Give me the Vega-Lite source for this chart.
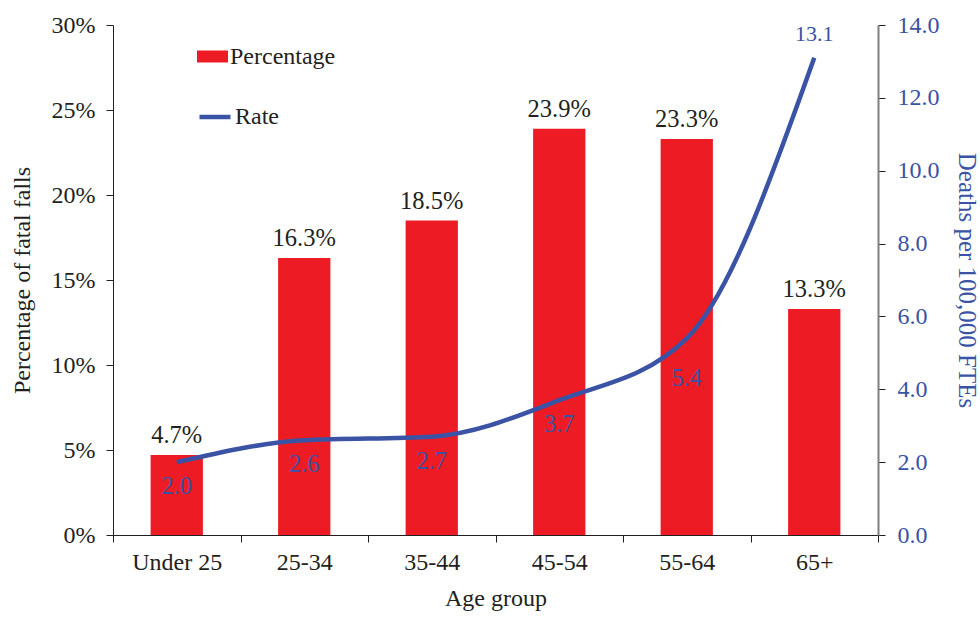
{
  "$schema": "https://vega.github.io/schema/vega-lite/v6.json",
  "width": 765,
  "height": 510,
  "autosize": {"type": "none"},
  "padding": {"left": 113, "top": 25, "right": 102, "bottom": 85},
  "background": "white",
  "config": {
    "view": {"stroke": null},
    "font": "Liberation Serif",
    "axis": {"labelFont": "Liberation Serif", "titleFont": "Liberation Serif", "labelFontSize": 24, "titleFontSize": 24, "titleFontWeight": "normal", "labelColor": "#231F20", "titleColor": "#231F20", "grid": false},
    "legend": {"labelFont": "Liberation Serif", "labelFontSize": 24, "labelColor": "#231F20"}
  },
  "data": {"values": [
    {"age": "Under 25", "pct": 4.7, "rate": 2.0},
    {"age": "25-34", "pct": 16.3, "rate": 2.6},
    {"age": "35-44", "pct": 18.5, "rate": 2.7},
    {"age": "45-54", "pct": 23.9, "rate": 3.7},
    {"age": "55-64", "pct": 23.3, "rate": 5.4},
    {"age": "65+", "pct": 13.3, "rate": 13.1}
  ]},
  "encoding": {
    "x": {"field": "age", "type": "nominal", "sort": null,
      "scale": {"paddingInner": 0, "paddingOuter": 0},
      "axis": {"title": "Age group", "labelAngle": 0, "tickBand": "extent", "domainColor": "#231F20", "tickColor": "#231F20", "tickSize": 7, "labelPadding": 8, "titlePadding": 12}}
  },
  "layer": [
    {
      "layer": [
        {
          "mark": {"type": "bar", "color": "#ED1C24", "width": {"band": 0.41}},
          "encoding": {
            "y": {"field": "pct", "type": "quantitative", "scale": {"domain": [0, 30]},
              "axis": {"title": "Percentage of fatal falls", "titleFontSize": 24, "values": [0, 5, 10, 15, 20, 25, 30], "labelExpr": "datum.value + '%'", "domainColor": "#231F20", "tickColor": "#231F20", "tickSize": 7, "labelPadding": 11, "titlePadding": 17}},
            "fill": {"datum": "Percentage", "type": "nominal", "scale": {"range": ["#ED1C24"]},
              "legend": {"title": null, "orient": "none", "legendX": 84, "legendY": 16, "symbolType": "M-1,-0.387H1V0.387H-1Z", "symbolSize": 961, "symbolStrokeWidth": 0, "labelOffset": 2}}
          }
        },
        {
          "transform": [{"calculate": "format(datum.pct, '.1f') + '%'", "as": "pctLabel"}],
          "mark": {"type": "text", "baseline": "bottom", "dy": -7, "fontSize": 24.5, "color": "#231F20", "font": "Liberation Serif"},
          "encoding": {
            "y": {"field": "pct", "type": "quantitative"},
            "text": {"field": "pctLabel", "type": "nominal"}
          }
        }
      ]
    },
    {
      "layer": [
        {
          "mark": {"type": "line", "color": "#3A53A4", "strokeWidth": 4.5, "interpolate": "monotone"},
          "encoding": {
            "y": {"field": "rate", "type": "quantitative", "scale": {"domain": [0, 14]},
              "axis": {"orient": "right", "title": "Deaths per 100,000 FTEs", "titleFontSize": 25, "titleAngle": 90, "titleColor": "#3A53A4", "labelColor": "#3A53A4", "format": ".1f", "values": [0, 2, 4, 6, 8, 10, 12, 14], "domainColor": "#7F7F7F", "domainWidth": 2, "tickColor": "#231F20", "tickSize": 7, "labelPadding": 12, "titlePadding": 14}},
            "stroke": {"datum": "Rate", "type": "nominal", "scale": {"range": ["#3A53A4"]},
              "legend": {"title": null, "orient": "none", "legendX": 84, "legendY": 74, "symbolType": "stroke", "symbolSize": 961, "symbolStrokeWidth": 4.5, "labelOffset": 2}}
          }
        },
        {
          "transform": [{"filter": "datum.rate < 5"}],
          "mark": {"type": "text", "baseline": "middle", "dy": 25, "fontSize": 24.5, "color": "#3A53A4", "font": "Liberation Serif"},
          "encoding": {
            "y": {"field": "rate", "type": "quantitative"},
            "text": {"field": "rate", "type": "quantitative", "format": ".1f"}
          }
        },
        {
          "transform": [{"filter": "datum.rate >= 5 && datum.rate < 10"}],
          "mark": {"type": "text", "baseline": "middle", "dy": 41, "fontSize": 24.5, "color": "#3A53A4", "font": "Liberation Serif"},
          "encoding": {
            "y": {"field": "rate", "type": "quantitative"},
            "text": {"field": "rate", "type": "quantitative", "format": ".1f"}
          }
        },
        {
          "transform": [{"filter": "datum.rate >= 10"}],
          "mark": {"type": "text", "baseline": "middle", "dy": -24, "fontSize": 22, "color": "#3A53A4", "font": "Liberation Serif"},
          "encoding": {
            "y": {"field": "rate", "type": "quantitative"},
            "text": {"field": "rate", "type": "quantitative", "format": ".1f"}
          }
        }
      ]
    }
  ],
  "resolve": {"scale": {"y": "independent", "fill": "independent", "stroke": "independent"}}
}
